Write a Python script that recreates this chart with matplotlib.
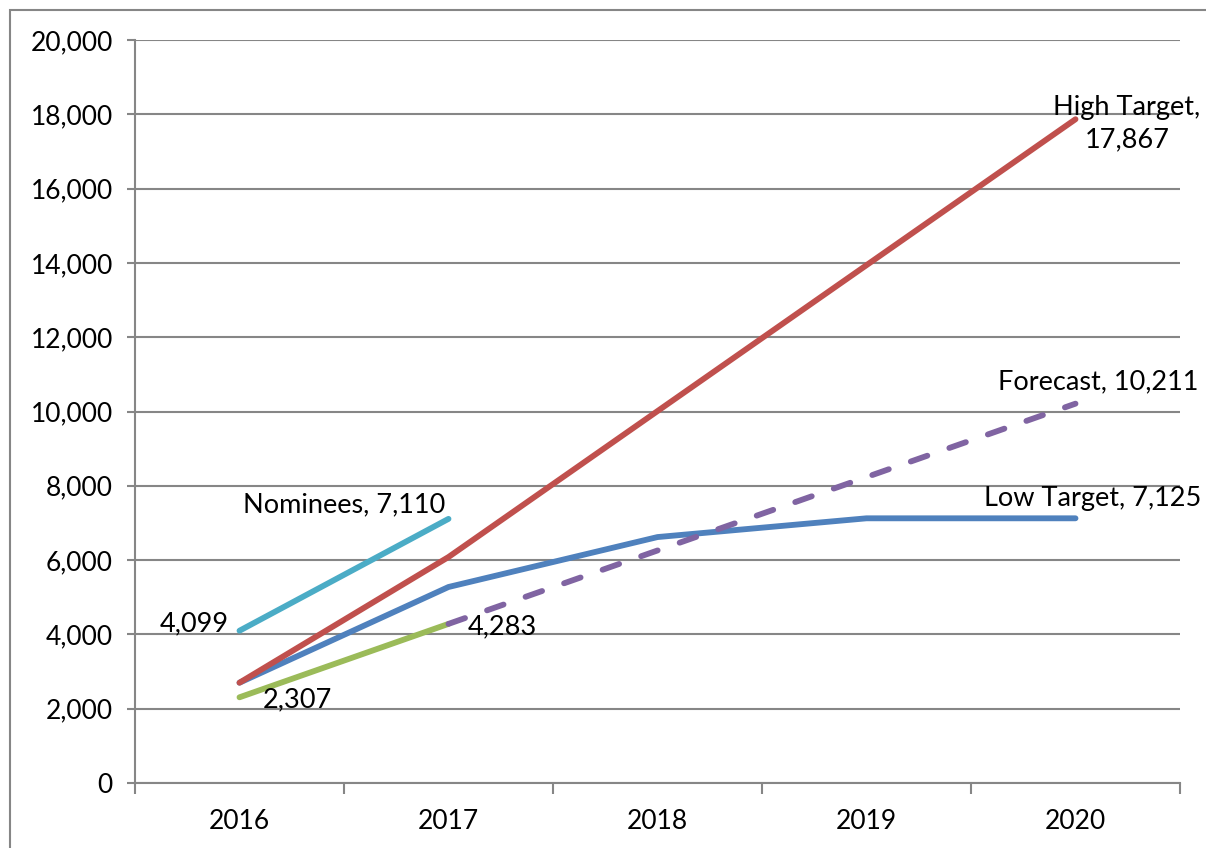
import matplotlib.pyplot as plt
from matplotlib.patches import Rectangle
from matplotlib.ticker import FuncFormatter
import numpy as np

plt.rcParams['font.family'] = ['Lato', 'DejaVu Sans']

years = ['2016', '2017', '2018', '2019', '2020']
high_target = [2700, 6083, 10011, 13939, 17867]
low_target = [2700, 5276, 6620, 7125, 7125]
nominees = [4099, 7110]
actual = [2307, 4283]
forecast = [4283, 6259, 8235, 10211]

c_blue = '#4F81BD'
c_red = '#C0504D'
c_green = '#9BBB59'
c_purple = '#8064A2'
c_aqua = '#4BACC6'
grid_c = '#868686'

fig = plt.figure(figsize=(12.06, 8.48), dpi=100)
ax = fig.add_axes([135 / 1206, 1 - 783 / 848, 1045 / 1206, 743 / 848])

x = np.arange(len(years))
lw = 4.2
kw = dict(linewidth=lw, solid_capstyle='round', dash_capstyle='round', zorder=3)

ax.plot(x, low_target, color=c_blue, **kw)
ax.plot(x, high_target, color=c_red, **kw)
ax.plot(x[:2], nominees, color=c_aqua, **kw)
ax.plot(x[:2], actual, color=c_green, **kw)
ax.plot(x[1:], forecast, color=c_purple, linestyle=(0, (3.0, 4.0)), **kw)

fs = 19.5
ax.annotate(f'Nominees, {nominees[1]:,}', (x[1], nominees[1]), xytext=(-75, 1),
            textcoords='offset points', ha='center', va='bottom', fontsize=fs)
ax.annotate(f'{nominees[0]:,}', (x[0], nominees[0]), xytext=(-8, 5),
            textcoords='offset points', ha='right', va='center', fontsize=fs)
ax.annotate(f'{actual[0]:,}', (x[0], actual[0]), xytext=(17, 7),
            textcoords='offset points', ha='left', va='top', fontsize=fs)
ax.annotate(f'{actual[1]:,}', (x[1], actual[1]), xytext=(14, -2),
            textcoords='offset points', ha='left', va='center', fontsize=fs)
ax.annotate(f'High Target,\n{high_target[-1]:,}', (x[-1], high_target[-1]), xytext=(37, -3),
            textcoords='offset points', ha='center', va='center', fontsize=fs,
            multialignment='center', linespacing=1.35)
ax.annotate(f'Forecast, {forecast[-1]:,}', (x[-1], forecast[-1]), xytext=(16, 7),
            textcoords='offset points', ha='center', va='bottom', fontsize=fs)
ax.annotate(f'Low Target, {low_target[-1]:,}', (x[-1], low_target[-1]), xytext=(12, 5),
            textcoords='offset points', ha='center', va='bottom', fontsize=fs)

ax.set_xlim(-0.5, 4.5)
ax.set_ylim(0, 20000)
ax.set_yticks(np.arange(0, 20001, 2000))
ax.yaxis.set_major_formatter(FuncFormatter(lambda v, p: f'{int(v):,}'))
ax.set_xticks(x)
ax.set_xticklabels(years)
ax.set_xticks(np.arange(-0.5, 4.6, 1), minor=True)

ax.grid(axis='y', color=grid_c, linewidth=1.5, zorder=1)
for s in ['top', 'right']:
    ax.spines[s].set_visible(False)
for s in ['left', 'bottom']:
    ax.spines[s].set_color(grid_c)
    ax.spines[s].set_linewidth(1.5)

ax.tick_params(axis='y', length=6, width=1.5, color=grid_c, labelsize=19, pad=10)
ax.tick_params(axis='x', which='major', length=0, labelsize=19, pad=19)
ax.tick_params(axis='x', which='minor', length=8, width=1.5, color=grid_c)

# outer chart frame
fig.patches.append(Rectangle((10 / 1206, -0.5), 1.5, 1.5 - 10 / 848,
                             transform=fig.transFigure, fill=False,
                             edgecolor=grid_c, linewidth=1.5))

fig.savefig('out.png', dpi=100)
